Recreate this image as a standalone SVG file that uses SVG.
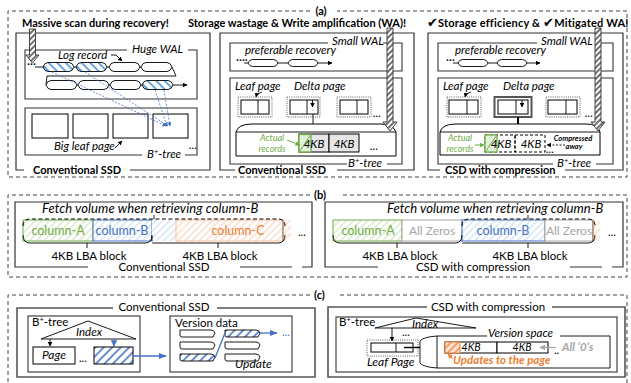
<svg xmlns="http://www.w3.org/2000/svg" width="631" height="383" viewBox="0 0 631 383">
<defs>
<style>
text{font-family:Lato,"Liberation Sans","DejaVu Sans",sans-serif;fill:#000}
.b{font-weight:bold}
.i{font-style:italic}
.ttl{font-size:11px;font-weight:bold}
.lbl{font-size:11.5px;font-style:italic}
.reg{font-size:11.5px}
.mid{text-anchor:middle}
.frame{fill:none;stroke:#333;stroke-width:1.2}
.box{fill:none;stroke:#333;stroke-width:1.1}
.sec{fill:none;stroke:#444;stroke-width:1;stroke-dasharray:4 3}
.ln{fill:none;stroke:#000;stroke-width:0.9}
.dot{fill:none;stroke:#333;stroke-width:0.8;stroke-dasharray:1 1.2}
.cell{fill:#fff;stroke:#000;stroke-width:1}
.rec{stroke:#000;stroke-width:0.9}
.blu{fill:none;stroke:#4472c4;stroke-width:1.3}
.bdash{fill:none;stroke:#4472c4;stroke-width:0.8;stroke-dasharray:2 1.5}
.cpanel{fill:none;stroke:#555;stroke-width:1.6}
.green{fill:#70ad47}
.blue{fill:#4472c4}
.orange{fill:#ed7d31}
.gray{fill:#a6a6a6}
.fetch{font-size:13px;font-style:italic;letter-spacing:0.1px}
.act{font-size:9px;font-style:italic;fill:#70ad47;text-anchor:middle}
</style>
<pattern id="hb" width="6" height="6" patternUnits="userSpaceOnUse" patternTransform="rotate(-45)">
<rect width="6" height="6" fill="#fff"/><line x1="1" y1="0" x2="1" y2="6" stroke="#5b9bd5" stroke-width="1.8"/>
</pattern>
<pattern id="hbf" width="6" height="6" patternUnits="userSpaceOnUse" patternTransform="rotate(45)">
<rect width="6" height="6" fill="#fff"/><line x1="1" y1="0" x2="1" y2="6" stroke="#4472c4" stroke-width="1.6"/>
</pattern>
<pattern id="hbw" width="4" height="4" patternUnits="userSpaceOnUse" patternTransform="rotate(45)">
<rect width="4" height="4" fill="#fff"/><line x1="1" y1="0" x2="1" y2="4" stroke="#222" stroke-width="1.3"/>
</pattern>
<pattern id="lg" width="5" height="5" patternUnits="userSpaceOnUse" patternTransform="rotate(45)">
<rect width="5" height="5" fill="#fff"/><line x1="1" y1="0" x2="1" y2="5" stroke="#c5e0b4" stroke-width="1"/>
</pattern>
<pattern id="lb" width="5" height="5" patternUnits="userSpaceOnUse" patternTransform="rotate(45)">
<rect width="5" height="5" fill="#fff"/><line x1="1" y1="0" x2="1" y2="5" stroke="#bdd7ee" stroke-width="1"/>
</pattern>
<pattern id="lo" width="5" height="5" patternUnits="userSpaceOnUse" patternTransform="rotate(45)">
<rect width="5" height="5" fill="#fff"/><line x1="1" y1="0" x2="1" y2="5" stroke="#f8cbad" stroke-width="1"/>
</pattern>
<pattern id="ho" width="5" height="5" patternUnits="userSpaceOnUse" patternTransform="rotate(45)">
<rect width="5" height="5" fill="#fbe5d6"/><line x1="1" y1="0" x2="1" y2="5" stroke="#ed7d31" stroke-width="1.3"/>
</pattern>
<marker id="ak" viewBox="0 0 10 10" refX="9" refY="5" markerWidth="5" markerHeight="5" orient="auto"><path d="M0,0 L10,5 L0,10 Z" fill="#000"/></marker>
<marker id="ab" viewBox="0 0 10 10" refX="9" refY="5" markerWidth="5" markerHeight="5" orient="auto"><path d="M0,0 L10,5 L0,10 Z" fill="#4472c4"/></marker>
<marker id="ab2" viewBox="0 0 10 10" refX="9" refY="5" markerWidth="6" markerHeight="6" orient="auto"><path d="M0,1 L10,5 L0,9 Z" fill="#4472c4"/></marker>
<marker id="ag" viewBox="0 0 10 10" refX="9" refY="5" markerWidth="5" markerHeight="5" orient="auto"><path d="M0,0 L10,5 L0,10 Z" fill="#70ad47"/></marker>
<marker id="ao" viewBox="0 0 10 10" refX="9" refY="5" markerWidth="5" markerHeight="5" orient="auto"><path d="M0,0 L10,5 L0,10 Z" fill="#ed7d31"/></marker>
<marker id="agr" viewBox="0 0 10 10" refX="9" refY="5" markerWidth="5" markerHeight="5" orient="auto"><path d="M0,0 L10,5 L0,10 Z" fill="#a6a6a6"/></marker>
<path id="lr" d="M0,0 Q1.5,-4.5 5,-4.5 H26 Q29.5,-4.5 31,0 Q29.5,4.5 26,4.5 H5 Q1.5,4.5 0,0 Z"/>
<path id="sr" d="M0,0 Q1.5,-3.5 4.5,-3.5 H25.5 Q28.5,-3.5 30,0 Q28.5,3.5 25.5,3.5 H4.5 Q1.5,3.5 0,0 Z"/>
<path id="vr" d="M0,0 H31 Q34,0 35,3 L33,7 H2 Q0,7 0,5 Z"/>
</defs>
<rect width="631" height="383" fill="#fff"/>

<!-- ===== section (a) frame ===== -->
<g id="sec-a">
<path class="sec" d="M310,11 H8 V177 H627 V11 H337"/>
<text class="ttl mid" x="321" y="15">(a)</text>
</g>

<!-- panel a1: conventional SSD with huge WAL -->
<g id="a1">
<text class="ttl" x="22" y="27">Massive scan during recovery!</text>
<path class="frame" d="M130,170 H210 V33 H16 V170 H24"/>
<text class="ttl" x="33" y="174">Conventional SSD</text>
<path class="box" d="M127,50 H25 V99 H197 V50 H188"/>
<text class="lbl" x="132" y="53" font-size="12">Huge WAL</text>
<text class="lbl" x="58" y="59">Log record</text>
<path class="ln" d="M111,55 H116 L122,61" marker-end="url(#ak)"/>
<text class="lbl" x="27" y="68" font-style="normal">···</text>
<path class="ln" d="M35,67 H43 M74,67 H76 M107,67 H109 M139,67 H141 M172,67 L176,76 H47 L46,85 M76,85 H78 M108,85 H110 M140,85 H142"/>
<use href="#lr" x="43" y="67" class="rec" fill="url(#hb)"/>
<use href="#lr" x="76" y="67" class="rec" fill="url(#hb)"/>
<use href="#lr" x="109" y="67" class="rec" fill="#fff"/>
<use href="#lr" x="141" y="67" class="rec" fill="#fff"/>
<use href="#lr" x="46" y="85" class="rec" fill="#fff"/>
<use href="#lr" x="78" y="85" class="rec" fill="#fff"/>
<use href="#lr" x="110" y="85" class="rec" fill="#fff"/>
<use href="#lr" x="142" y="85" class="rec" fill="url(#hb)"/>
<path class="ln" d="M173,85 H187" marker-end="url(#ak)"/>
<path class="box" d="M142,155 H25 V108 H197 V155 H185"/>
<rect class="cell" x="32" y="114" width="36" height="24"/>
<rect class="cell" x="73" y="114" width="35" height="24"/>
<rect class="cell" x="113" y="114" width="35" height="24"/>
<rect class="cell" x="153" y="114" width="35" height="24" fill="url(#hb)"/>
<text class="lbl" x="54" y="150">Big leaf page</text>
<path class="ln" d="M115,148 L122,141" marker-end="url(#ak)"/>
<text class="lbl" x="189" y="149" font-style="normal">...</text>
<text class="lbl" x="147" y="158">B<tspan font-size="7.5" dy="-4">+</tspan><tspan dy="4">-tree</tspan></text>
<path class="bdash" d="M52,72 L166,126" marker-end="url(#ab)"/>
<path class="bdash" d="M85,72 L168,126" marker-end="url(#ab)"/>
<path class="bdash" d="M155,90 L167,126" marker-end="url(#ab)"/>
<path class="bdash" d="M164,90 L170,126" marker-end="url(#ab)"/>
<path d="M29.5,29 H35.5 V55 H39 L32.5,63 L26,55 H29.5 Z" fill="url(#hbw)" stroke="#333" stroke-width="0.9"/>
</g>

<!-- panel a2: conventional SSD, small WAL -->
<g id="a2">
<text class="ttl" x="188" y="27">Storage wastage &amp; Write amplification (WA)!</text>
<path class="frame" d="M337,170 H414 V33 H220 V170 H235"/>
<text class="ttl" x="238" y="174">Conventional SSD</text>
<path class="box" d="M328,43 H230 V71 H402 V43 H383"/>
<text class="lbl" x="332" y="45" font-size="12">Small WAL</text>
<text class="lbl" x="245" y="54">preferable recovery</text>
<text class="lbl" x="236" y="64" font-style="normal">····</text>
<path class="ln" d="M244,63 H248 M278,63 H288"/>
<use href="#sr" x="248" y="63" class="rec" fill="#fff"/>
<use href="#sr" x="288" y="63" class="rec" fill="#fff"/>
<path class="ln" d="M318,63 H332" marker-end="url(#ak)"/>
<path class="box" d="M347,164 H230 V78 H402 V164 H387"/>
<text class="lbl" x="348" y="167">B<tspan font-size="7.5" dy="-4">+</tspan><tspan dy="4">-tree</tspan></text>
<text class="lbl" x="235" y="89.5">Leaf page</text>
<text class="lbl" x="294" y="89.5">Delta page</text>
<path class="ln" d="M262,92 Q257,93 256,97" marker-end="url(#ak)"/>
<rect class="dot" x="238" y="97" width="34" height="20"/>
<rect class="cell" x="241" y="100" width="28" height="14"/>
<path class="ln" d="M258,100 V114"/>
<rect class="dot" x="287" y="97" width="33" height="20"/>
<rect class="cell" x="290" y="100" width="28" height="14"/>
<path class="ln" d="M307,100 V114"/>
<path class="ln" d="M312.5,100 V107" marker-end="url(#ak)"/>
<rect class="dot" x="337" y="97" width="34" height="20"/>
<rect class="cell" x="340" y="100" width="28" height="14"/>
<path class="ln" d="M357,100 V114"/>
<text class="lbl" x="373" y="117" font-style="normal">...</text>
<path class="ln" d="M313,114 V124" stroke-width="1.2"/>
<path d="M236,156 V132 Q238,124 252,124 H381 Q393,124 396,132 V156 Z" fill="#fff" stroke="#000" stroke-width="1"/>
<path class="ln" d="M236,132 H396"/>
<rect x="299" y="134" width="30" height="18" fill="#e7e6e6" stroke="#000" stroke-width="1"/>
<rect x="329" y="134" width="30" height="18" fill="#e7e6e6" stroke="#000" stroke-width="1"/>
<rect x="299" y="134.5" width="12" height="17.5" fill="#e2f0d9" stroke="#70ad47" stroke-width="1.3"/>
<path d="M299.5,151.5 L310.5,135" stroke="#70ad47" stroke-width="1"/>
<text class="lbl mid" x="314" y="148" font-size="11.5">4KB</text>
<text class="lbl mid" x="344" y="148" font-size="11.5">4KB</text>
<text class="act" x="272" y="140.5">Actual</text>
<text class="act" x="272" y="151.5">records</text>
<path d="M287,140 L300,145" stroke="#70ad47" stroke-width="1" marker-end="url(#ag)"/>
<text class="lbl" x="370" y="150" font-style="normal">...</text>
<path d="M387,28 H393 V122 H397 L390,131 L383,122 H387 Z" fill="url(#hbw)" stroke="#333" stroke-width="0.9"/>
</g>

<!-- panel a3: CSD with compression -->
<g id="a3">
<text class="ttl" x="427" y="27" letter-spacing="0.2"><tspan font-size="13">✔</tspan>Storage efficiency &amp; <tspan font-size="13">✔</tspan>Mitigated WA!</text>
<path class="frame" d="M565,170 H623 V33 H428 V170 H440"/>
<text class="ttl" x="445" y="174">CSD with compression</text>
<path class="box" d="M537,43 H438 V71 H613 V43 H595"/>
<text class="lbl" x="541" y="45" font-size="12">Small WAL</text>
<text class="lbl" x="455" y="54">preferable recovery</text>
<text class="lbl" x="446" y="64" font-style="normal">···</text>
<path class="ln" d="M453,63 H458 M488,63 H497"/>
<use href="#sr" x="458" y="63" class="rec" fill="#fff"/>
<use href="#sr" x="497" y="63" class="rec" fill="#fff"/>
<path class="ln" d="M527,63 H540" marker-end="url(#ak)"/>
<path class="box" d="M553,164 H438 V78 H613 V164 H596"/>
<text class="lbl" x="557" y="167">B<tspan font-size="7.5" dy="-4">+</tspan><tspan dy="4">-tree</tspan></text>
<text class="lbl" x="443" y="89.5">Leaf page</text>
<text class="lbl" x="503" y="89.5">Delta page</text>
<path class="ln" d="M471,92 Q466,93 465,97" marker-end="url(#ak)"/>
<rect class="dot" x="447" y="97" width="34" height="20"/>
<rect class="cell" x="449" y="100" width="29" height="14"/>
<path class="ln" d="M467,100 V114"/>
<rect x="494.5" y="97" width="37" height="20" fill="#fff" stroke="#555" stroke-width="2"/>
<rect class="cell" x="498" y="100" width="30" height="14"/>
<path class="ln" d="M516,100 V114"/>
<path class="ln" d="M522,100 V107" marker-end="url(#ak)"/>
<rect class="dot" x="546" y="97" width="34" height="20"/>
<rect class="cell" x="548" y="100" width="29" height="14"/>
<path class="ln" d="M566,100 V114"/>
<text class="lbl" x="585" y="117" font-style="normal">...</text>
<path d="M518,117 V124" stroke="#000" stroke-width="2"/>
<path d="M440,155 V132 Q442,124 456,124 H586 Q598,124 600,132 V155 Z" fill="#fff" stroke="#000" stroke-width="1"/>
<path class="ln" d="M440,132 H600"/>
<rect x="485" y="135" width="30" height="17" fill="none" stroke="#000" stroke-width="1" stroke-dasharray="3 2"/>
<rect x="515" y="135" width="30" height="17" fill="none" stroke="#000" stroke-width="1" stroke-dasharray="3 2"/>
<rect x="485" y="135" width="12" height="17" fill="#e2f0d9" stroke="#70ad47" stroke-width="1.3"/>
<path d="M485.5,151.5 L496.5,135.5" stroke="#70ad47" stroke-width="1"/>
<text class="lbl mid" x="501" y="148" font-size="11.5">4KB</text>
<text class="lbl mid" x="531" y="148" font-size="11.5">4KB</text>
<text class="act" x="460" y="140.5">Actual</text>
<text class="act" x="460" y="151.5">records</text>
<path d="M475,145 L484,145" stroke="#70ad47" stroke-width="1" marker-end="url(#ag)"/>
<text class="b i mid" x="573" y="141" font-size="7.5">Compressed</text>
<text class="b i mid" x="574" y="149" font-size="7.5">away</text>
<path d="M565,145 H547" stroke="#000" stroke-width="0.9" stroke-dasharray="2 1.5" marker-end="url(#ak)"/>
<text class="lbl" x="546" y="153" font-style="normal">...</text>
<path d="M595,28 H601 V122 H605 L598,131 L591,122 H595 Z" fill="url(#hbw)" stroke="#333" stroke-width="0.9"/>
</g>

<!-- ===== section (b) ===== -->
<g id="sec-b">
<path class="sec" d="M310,195 H8 V277 H627 V195 H340"/>
<text class="ttl" x="314" y="199">(b)</text>
</g>

<g id="b1">
<path class="frame" d="M88,267 H15 V202 H312 V267 H302 M292,267 H240"/>
<text class="reg mid" x="164" y="271">Conventional SSD</text>
<text class="fetch" x="42" y="213">Fetch volume when retrieving column-B</text>
<rect x="23" y="220" width="70" height="21" fill="url(#lg)" stroke="#70ad47" stroke-width="1"/>
<rect x="93" y="220" width="59" height="21" fill="url(#lb)" stroke="#4472c4" stroke-width="1"/>
<rect x="152" y="220" width="24" height="21" fill="url(#lb)"/>
<rect x="176" y="220" width="107" height="21" fill="url(#lo)" stroke="#f4b183" stroke-width="0.8"/>
<rect x="283" y="220" width="8" height="21" fill="url(#lo)"/>
<path d="M283,220 V241" stroke="#8a5a3a" stroke-width="1"/>
<text class="mid green" x="58" y="235" font-size="12.5">column-A</text>
<text class="mid blue" x="122" y="235" font-size="12.5">column-B</text>
<text class="mid orange" x="238" y="235" font-size="12.5">column-C</text>
<text x="298" y="236" font-size="11">...</text>
<path d="M23,226 Q23,219 30,219 H278 Q285,219 285,226" fill="none" stroke="#000" stroke-width="1" stroke-dasharray="4 2.5"/>
<path class="ln" d="M154,215 V219"/>
<path class="ln" d="M23,235 Q23,243 30,243 H145 Q152,243 152,235 M87,243 V248 M152,243 Q152,243 159,243 H278 Q285,243 285,235 M218,243 V248 M152,236 V241"/>
<text class="reg mid" x="89" y="260">4KB LBA block</text>
<text class="reg mid" x="220" y="260">4KB LBA block</text>
</g>

<g id="b2">
<path class="frame" d="M378,267 H325 V202 H623 V267 H612 M602,267 H570"/>
<text class="reg mid" x="473" y="271">CSD with compression</text>
<text class="fetch" x="387" y="213">Fetch volume when retrieving column-B</text>
<rect x="333" y="220" width="69" height="21" fill="url(#lg)" stroke="#70ad47" stroke-width="1"/>
<rect x="402" y="220" width="60" height="21" fill="#fff" stroke="#a6a6a6" stroke-width="1"/>
<rect x="462" y="220" width="83" height="21" fill="url(#lb)" stroke="#4472c4" stroke-width="1"/>
<rect x="545" y="220" width="48" height="21" fill="#fff" stroke="#a6a6a6" stroke-width="1"/>
<rect x="593" y="220" width="7" height="21" fill="url(#lo)"/>
<path d="M593,220 V241" stroke="#8a5a3a" stroke-width="1"/>
<text class="mid green" x="368" y="235" font-size="12.5">column-A</text>
<text class="mid gray" x="432" y="235" font-size="12">All Zeros</text>
<text class="mid blue" x="503" y="235" font-size="12.5">column-B</text>
<text class="mid gray" x="569" y="235" font-size="12">All Zeros</text>
<text x="608" y="236" font-size="11">...</text>
<path d="M462,226 Q462,219 469,219 H588 Q595,219 595,226" fill="none" stroke="#000" stroke-width="1" stroke-dasharray="4 2.5"/>
<path class="ln" d="M528,215 V219"/>
<path class="ln" d="M333,235 Q333,243 340,243 H455 Q462,243 462,235 M397,243 V248 M462,243 Q462,243 469,243 H588 Q595,243 595,235 M528,243 V248"/>
<text class="reg mid" x="400" y="260">4KB LBA block</text>
<text class="reg mid" x="530" y="260">4KB LBA block</text>
</g>

<!-- ===== section (c) ===== -->
<g id="sec-c">
<path class="sec" d="M310,295 H8 V383 M627,383 V295 H340"/>
<text class="ttl" x="314" y="299">(c)</text>
</g>

<g id="c1">
<path class="cpanel" d="M113,308 H17 V377 H315 V308 H217"/>
<text class="reg mid" x="164" y="311">Conventional SSD</text>
<rect class="box" x="28" y="316" width="112" height="56" stroke="#000"/>
<text x="32" y="326" font-size="11.5">B<tspan font-size="7.5" dy="-4">+</tspan><tspan dy="4">-tree</tspan></text>
<path class="ln" d="M88,321 L41,339 H136 Z"/>
<text class="i mid" x="89" y="336" font-size="11.5">Index</text>
<path class="ln" d="M50,339 V346" marker-end="url(#ak)"/>
<path class="blu" d="M114,339 V346" marker-end="url(#ab)"/>
<rect class="cell" x="33" y="347" width="42" height="17"/>
<text class="i mid" x="54" y="359" font-size="12">Page</text>
<text x="79" y="362" font-size="11">...</text>
<rect x="94" y="347" width="39" height="17" fill="url(#hbf)" stroke="#000" stroke-width="1"/>
<path class="blu" d="M133,356 H166" marker-end="url(#ab2)"/>
<rect class="box" x="170" y="316" width="122" height="56" stroke="#000"/>
<text x="175" y="327" font-size="11.5">Version data</text>
<use href="#vr" x="180" y="330" class="rec" fill="#fff"/>
<use href="#vr" x="180" y="342" class="rec" fill="#fff"/>
<use href="#vr" x="180" y="354" class="rec" fill="url(#hbf)"/>
<use href="#vr" x="225" y="330" class="rec" fill="url(#hbf)"/>
<use href="#vr" x="225" y="342" class="rec" fill="#fff"/>
<use href="#vr" x="225" y="354" class="rec" fill="#fff"/>
<path class="blu" d="M215,358 L225,333"/>
<path class="blu" d="M260,333 H277" marker-end="url(#ab2)"/>
<text class="blue" x="282" y="336" font-size="11">...</text>
<text class="i" x="235" y="368" font-size="12">Update</text>
</g>

<g id="c2">
<path class="cpanel" d="M427,307 H328 V377 H625 V307 H552"/>
<text class="reg mid" x="488" y="311">CSD with compression</text>
<rect class="box" x="336" y="317" width="281" height="55" stroke="#000"/>
<text x="339" y="326" font-size="11.5">B<tspan font-size="7.5" dy="-4">+</tspan><tspan dy="4">-tree</tspan></text>
<path class="ln" d="M416,318 L375,328 H476 Z"/>
<text class="i mid" x="425" y="328" font-size="11.5">Index</text>
<path class="ln" d="M392,328 V341" marker-end="url(#ak)"/>
<text x="402" y="336" font-size="11">...</text>
<rect class="dot" x="367" y="340" width="51" height="16"/>
<rect class="cell" x="371" y="343" width="42" height="9"/>
<path class="ln" d="M396,343 V352"/>
<path d="M404,347.5 H420" stroke="#000" stroke-width="1.4"/>
<text class="i" x="367" y="366" font-size="12">Leaf Page</text>
<path class="ln" d="M437,336 Q423,337 420,341 V363 Q423,367 437,368"/>
<path class="ln" d="M487,336 H437 V368 H610 V336 H560"/>
<text class="i" x="488" y="336.5" font-size="11.5">Version space</text>
<rect class="cell" x="445" y="342" width="52" height="11"/>
<rect class="cell" x="497" y="342" width="51" height="11"/>
<rect x="445" y="342" width="15" height="11" fill="url(#ho)" stroke="#ed7d31" stroke-width="1"/>
<text class="i mid" x="471" y="351" font-size="10.5">4KB</text>
<text class="i mid" x="522" y="351" font-size="10.5">4KB</text>
<path d="M556,347.5 H540" stroke="#a6a6a6" stroke-width="1.2" marker-end="url(#agr)"/>
<text x="554" y="354" font-size="11">..</text>
<text class="b i gray" x="562" y="351" font-size="11.5">All ‘0’s</text>
<text class="b i orange" x="453" y="363.5" font-size="11.5">Updates to the page</text>
<path d="M453,359 L448,354" stroke="#ed7d31" stroke-width="1" marker-end="url(#ao)"/>
</g>
</svg>
